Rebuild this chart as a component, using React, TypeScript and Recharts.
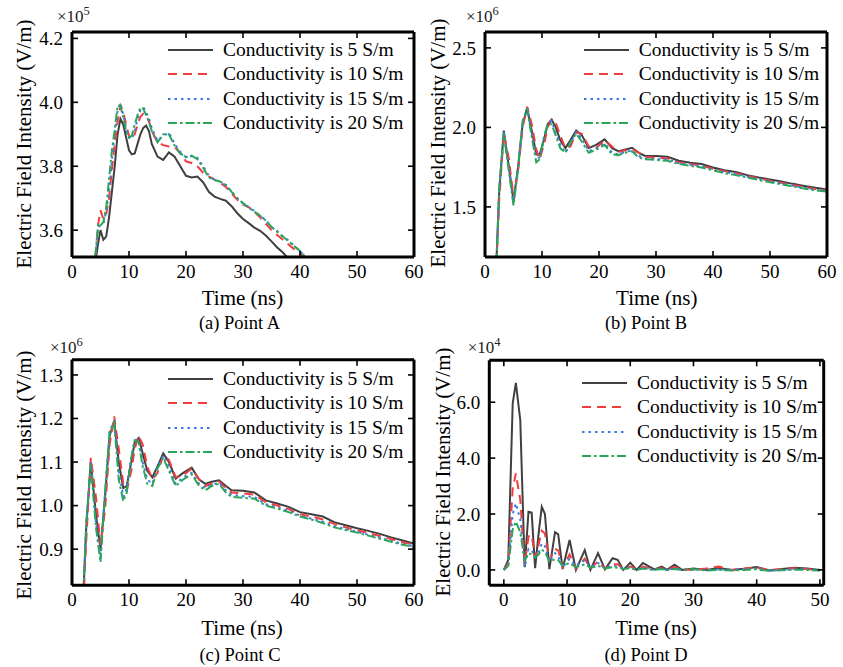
import React from 'react';
import { LineChart, Line, XAxis, YAxis, Legend } from 'recharts';

const serif = '"Liberation Serif", "Times New Roman", serif';

const seriesNames = ['Conductivity is 5 S/m', 'Conductivity is 10 S/m', 'Conductivity is 15 S/m', 'Conductivity is 20 S/m'];
const seriesKeys = ['s5', 's10', 's15', 's20'];
const seriesColors = ['#404040', '#f23d3d', '#3b7be6', '#2aa65a'];
const seriesDashes = [undefined, '9 6', '2.5 4', '9 3 2.5 3'];

// (a) Point A, values in 1e5 V/m
const timeA = [4.1, 4.6, 5.0, 5.5, 6.0, 6.5, 7.0, 7.5, 8.0, 8.5, 9.0, 9.5, 10.0, 10.5, 11, 11.5, 12, 12.5, 13, 13.5, 14, 15, 16, 17, 18, 19, 20, 21, 22, 23, 24, 25, 26, 27, 28, 29, 30, 31, 32, 33, 34, 35, 36, 37, 38, 39, 40, 41];
const a5 = [3.5, 3.56, 3.6, 3.57, 3.58, 3.64, 3.72, 3.8, 3.9, 3.948, 3.93, 3.89, 3.85, 3.837, 3.84, 3.87, 3.9, 3.92, 3.927, 3.91, 3.87, 3.83, 3.82, 3.843, 3.83, 3.8, 3.77, 3.765, 3.768, 3.75, 3.72, 3.705, 3.698, 3.692, 3.675, 3.653, 3.635, 3.622, 3.608, 3.598, 3.583, 3.565, 3.546, 3.53, 3.51, 3.49, 3.47, 3.45];
const a10 = [3.52, 3.62, 3.662, 3.635, 3.65, 3.7, 3.79, 3.87, 3.94, 3.99, 3.97, 3.93, 3.895, 3.886, 3.9, 3.93, 3.955, 3.964, 3.96, 3.94, 3.91, 3.875, 3.866, 3.862, 3.86, 3.84, 3.815, 3.81, 3.8, 3.78, 3.768, 3.758, 3.748, 3.735, 3.715, 3.695, 3.68, 3.672, 3.657, 3.64, 3.62, 3.6, 3.585, 3.57, 3.555, 3.54, 3.528, 3.51];
const a15 = [3.51, 3.61, 3.615, 3.62, 3.66, 3.72, 3.82, 3.9, 3.975, 3.998, 3.96, 3.92, 3.89, 3.885, 3.91, 3.95, 3.975, 3.985, 3.97, 3.95, 3.92, 3.88, 3.895, 3.905, 3.87, 3.845, 3.828, 3.832, 3.826, 3.8, 3.77, 3.758, 3.752, 3.74, 3.72, 3.7, 3.683, 3.672, 3.66, 3.645, 3.632, 3.61, 3.597, 3.58, 3.568, 3.55, 3.535, 3.515];
const a20 = [3.52, 3.62, 3.615, 3.625, 3.67, 3.76, 3.85, 3.915, 3.99, 3.99, 3.95, 3.91, 3.89, 3.895, 3.93, 3.96, 3.984, 3.98, 3.96, 3.94, 3.91, 3.875, 3.9, 3.9, 3.865, 3.84, 3.828, 3.833, 3.822, 3.795, 3.765, 3.757, 3.752, 3.742, 3.72, 3.7, 3.685, 3.67, 3.658, 3.645, 3.63, 3.61, 3.595, 3.58, 3.565, 3.55, 3.535, 3.515];

// (b) Point B and (c) Point C share a time grid, values in 1e6 V/m
const timeBC = [2.0, 2.5, 3.3, 4.2, 5.0, 5.8, 6.6, 7.4, 8.2, 9.0, 9.6, 10.4, 11.0, 11.7, 12.4, 13.2, 14.1, 15.0, 16.0, 17.0, 18.2, 19.5, 21.0, 22.3, 23.4, 24.5, 25.8, 27.0, 28.0, 30, 32, 34, 36, 38, 40, 42, 44, 46, 48, 50, 52, 54, 56, 58, 60];
const b5 = [1.15, 1.6, 1.98, 1.75, 1.54, 1.75, 2.02, 2.12, 1.98, 1.83, 1.83, 1.93, 2.02, 2.05, 2.0, 1.92, 1.87, 1.92, 1.98, 1.95, 1.87, 1.89, 1.925, 1.87, 1.85, 1.86, 1.872, 1.84, 1.822, 1.82, 1.815, 1.79, 1.778, 1.77, 1.748, 1.73, 1.72, 1.7, 1.685, 1.672, 1.66, 1.645, 1.632, 1.62, 1.61];
const b10 = [1.13, 1.55, 1.96, 1.8, 1.56, 1.72, 2.0, 2.13, 2.02, 1.86, 1.8, 1.9, 2.0, 2.05, 2.03, 1.95, 1.87, 1.88, 1.97, 1.96, 1.88, 1.87, 1.92, 1.88, 1.845, 1.855, 1.865, 1.84, 1.815, 1.81, 1.805, 1.78, 1.77, 1.76, 1.74, 1.725, 1.712, 1.695, 1.68, 1.665, 1.652, 1.638, 1.625, 1.612, 1.603];
const b15 = [1.15, 1.62, 1.97, 1.74, 1.52, 1.74, 2.03, 2.12, 1.96, 1.81, 1.81, 1.94, 2.02, 2.04, 1.97, 1.89, 1.84, 1.9, 1.97, 1.93, 1.85, 1.87, 1.9, 1.84, 1.83, 1.845, 1.855, 1.82, 1.805, 1.8, 1.8, 1.775, 1.765, 1.755, 1.735, 1.72, 1.708, 1.69, 1.675, 1.66, 1.648, 1.633, 1.62, 1.608, 1.6];
const b20 = [1.15, 1.62, 1.96, 1.72, 1.51, 1.74, 2.04, 2.12, 1.94, 1.78, 1.8, 1.95, 2.02, 2.02, 1.95, 1.87, 1.84, 1.91, 1.96, 1.91, 1.84, 1.86, 1.89, 1.83, 1.825, 1.84, 1.85, 1.81, 1.8, 1.795, 1.79, 1.77, 1.758, 1.748, 1.73, 1.712, 1.7, 1.685, 1.67, 1.655, 1.642, 1.628, 1.615, 1.604, 1.596];

const c5 = [0.8, 0.95, 1.1, 0.98, 0.9, 1.02, 1.16, 1.195, 1.1, 1.04, 1.045, 1.1, 1.145, 1.155, 1.12, 1.08, 1.065, 1.09, 1.12, 1.1, 1.062, 1.075, 1.087, 1.06, 1.05, 1.055, 1.058, 1.045, 1.035, 1.034, 1.03, 1.012, 1.005, 0.997, 0.985, 0.98, 0.975, 0.962, 0.955, 0.948, 0.942, 0.935, 0.927, 0.92, 0.913];
const c10 = [0.78, 0.92, 1.11, 1.02, 0.91, 0.99, 1.14, 1.205, 1.13, 1.05, 1.035, 1.08, 1.13, 1.16, 1.14, 1.09, 1.06, 1.075, 1.115, 1.105, 1.065, 1.07, 1.085, 1.06, 1.045, 1.05, 1.055, 1.04, 1.03, 1.028, 1.025, 1.008, 1.0, 0.992, 0.98, 0.975, 0.968, 0.958, 0.95, 0.943, 0.937, 0.93, 0.923, 0.916, 0.91];
const c15 = [0.8, 0.96, 1.1, 0.96, 0.88, 1.03, 1.17, 1.195, 1.08, 1.02, 1.04, 1.11, 1.15, 1.15, 1.1, 1.06, 1.05, 1.09, 1.115, 1.09, 1.05, 1.065, 1.075, 1.05, 1.04, 1.048, 1.052, 1.035, 1.025, 1.022, 1.02, 1.003, 0.996, 0.988, 0.977, 0.97, 0.963, 0.953, 0.946, 0.94, 0.933, 0.926, 0.919, 0.912, 0.907];
const c20 = [0.8, 0.96, 1.095, 0.95, 0.87, 1.03, 1.17, 1.19, 1.06, 1.01, 1.03, 1.11, 1.15, 1.145, 1.09, 1.05, 1.045, 1.085, 1.11, 1.08, 1.045, 1.06, 1.072, 1.045, 1.035, 1.045, 1.05, 1.03, 1.02, 1.018, 1.016, 1.0, 0.993, 0.985, 0.975, 0.968, 0.96, 0.95, 0.944, 0.938, 0.931, 0.924, 0.917, 0.91, 0.905];

// (d) Point D, values in 1e4 V/m
const timeD = [0, 0.7, 1.4, 1.9, 2.6, 3.3, 3.9, 4.4, 4.95, 5.5, 6.0, 6.5, 7.2, 8.1, 8.6, 9.3, 10.4, 11.4, 12.8, 13.7, 14.9, 16.0, 17.2, 18.0, 18.9, 20.0, 21.0, 22.0, 23.8, 25.0, 25.8, 27.0, 28.2, 30, 32, 34, 36, 38, 40, 42, 44, 46, 48, 50];
const d5 = [0, 0.36, 5.95, 6.69, 5.36, 0.1, 2.08, 2.05, 0.06, 1.3, 2.26, 2.0, 0.03, 1.35, 1.27, 0.03, 1.07, 0.0, 0.71, 0.0, 0.6, 0.02, 0.42, 0.36, 0.0, 0.26, 0.0, 0.25, 0.02, 0.12, 0.0, 0.19, 0.0, 0.05, 0.0, 0.07, 0.0, 0.04, 0.1, -0.02, 0.03, 0.08, 0.05, 0.0];
const d10 = [0, 0.25, 2.9, 3.45, 2.5, 0.2, 1.2, 1.25, 0.45, 0.9, 1.4, 1.3, 0.35, 0.75, 0.7, 0.1, 0.55, 0.05, 0.4, 0.05, 0.3, 0.05, 0.2, 0.2, 0.03, 0.12, 0.02, 0.12, 0.02, 0.06, 0.0, 0.1, 0.02, 0.0, 0.05, 0.12, 0.0, 0.05, 0.08, 0.0, 0.02, 0.06, 0.03, 0.0];
const d15 = [0, 0.2, 2.0, 2.38, 1.8, 0.1, 0.75, 0.7, 0.45, 0.6, 0.95, 0.85, 0.3, 0.6, 0.5, 0.1, 0.4, 0.15, 0.35, 0.1, 0.25, 0.05, 0.15, 0.12, 0.05, 0.1, 0.0, 0.08, 0.0, 0.05, 0.0, 0.05, 0.0, 0.03, 0.0, 0.02, 0.0, 0.03, 0.05, -0.03, 0.0, 0.03, 0.02, 0.0];
const d20 = [0, 0.15, 1.45, 1.73, 1.35, 0.35, 0.6, 0.55, 0.45, 0.55, 0.72, 0.65, 0.3, 0.38, 0.35, 0.15, 0.25, 0.1, 0.2, 0.08, 0.15, 0.05, 0.1, 0.08, 0.03, 0.06, 0.0, 0.05, 0.0, 0.03, 0.0, 0.03, 0.0, 0.02, -0.02, 0.0, -0.02, 0.0, 0.02, -0.03, -0.01, 0.01, 0.0, -0.02];

const ticks0to60 = [0, 10, 20, 30, 40, 50, 60];
const ticks0to50 = [0, 10, 20, 30, 40, 50];
const yTicksA = [3.6, 3.8, 4.0, 4.2];
const yTicksB = [1.5, 2.0, 2.5];
const yTicksC = [0.9, 1.0, 1.1, 1.2, 1.3];
const yTicksD = [0, 2, 4, 6];

function buildRows(time: number[], series: number[][]) {
  return time.map((t, i) => {
    const row: Record<string, number> = { t };
    seriesKeys.forEach((k, j) => {
      row[k] = series[j][i];
    });
    return row;
  });
}

const rowsA = buildRows(timeA, [a5, a10, a15, a20]);
const rowsB = buildRows(timeBC, [b5, b10, b15, b20]);
const rowsC = buildRows(timeBC, [c5, c10, c15, c20]);
const rowsD = buildRows(timeD, [d5, d10, d15, d20]);

const frame = { stroke: '#000', strokeWidth: 3 };
const tickLn = { stroke: '#000', strokeWidth: 1.6 };
const tickStyle = { fill: '#000', fontSize: 19, fontFamily: serif };

function LegendBox() {
  return (
    <div style={{ fontFamily: serif, fontSize: 19.5, color: '#000' }}>
      {seriesNames.map((name, i) => (
        <div key={name} style={{ display: 'flex', alignItems: 'center', height: 24.4, whiteSpace: 'nowrap' }}>
          <svg width={45} height={8} style={{ marginRight: 10 }}>
            <line x1={0} y1={4} x2={45} y2={4} stroke={seriesColors[i]} strokeWidth={2} strokeDasharray={seriesDashes[i]} />
          </svg>
          <span>{name}</span>
        </div>
      ))}
    </div>
  );
}

type PanelProps = {
  left: number;
  top: number;
  width: number;
  height: number;
  box: [number, number, number, number];
  rows: Record<string, number>[];
  xDomain: [number, number];
  xTicks: number[];
  yDomain: [number, number];
  yTicks: number[];
  legendAt: [number, number];
  yLabelAt: [number, number];
  timeAt: [number, number];
  captionAt: [number, number];
  expAt: [number, number];
  exponent: string;
  caption: string;
};

function Panel(p: PanelProps) {
  const [pl, pt, pr, pb] = p.box;
  const centered = (at: [number, number], size: number): React.CSSProperties => ({
    position: 'absolute',
    left: at[0],
    top: at[1],
    transform: 'translate(-50%, -50%)',
    fontFamily: serif,
    fontSize: size,
    whiteSpace: 'nowrap',
    color: '#000',
  });
  return (
    <div style={{ position: 'absolute', left: p.left, top: p.top, width: p.width, height: p.height }}>
      <LineChart width={p.width} height={p.height} data={p.rows} margin={{ top: pt - 1, right: p.width - pr - 1, bottom: 0, left: 0 }}>
        <XAxis xAxisId="b" dataKey="t" type="number" domain={p.xDomain} ticks={p.xTicks} allowDataOverflow interval={0}
          height={p.height - pb} tickSize={-6} tickMargin={13.5} tick={tickStyle} axisLine={frame} tickLine={tickLn} />
        <XAxis xAxisId="t" orientation="top" dataKey="t" type="number" domain={p.xDomain} ticks={p.xTicks} allowDataOverflow interval={0}
          height={1} tickSize={-6} tickFormatter={() => ''} axisLine={frame} tickLine={tickLn} />
        <YAxis yAxisId="l" type="number" domain={p.yDomain} ticks={p.yTicks} allowDataOverflow interval={0}
          width={pl} tickSize={-6} tickMargin={15} tick={tickStyle} tickFormatter={(v: number) => v.toFixed(1)} axisLine={frame} tickLine={tickLn} />
        <YAxis yAxisId="r" orientation="right" type="number" domain={p.yDomain} ticks={p.yTicks} allowDataOverflow interval={0}
          width={1} tickSize={-6} tickFormatter={() => ''} axisLine={frame} tickLine={tickLn} />
        {seriesKeys.map((k, i) => (
          <Line key={k} xAxisId="b" yAxisId="l" type="linear" dataKey={k} name={seriesNames[i]} stroke={seriesColors[i]}
            strokeWidth={2} strokeDasharray={seriesDashes[i]} dot={false} activeDot={false} isAnimationActive={false} />
        ))}
        <Legend layout="vertical" align="center" verticalAlign="middle" content={() => <LegendBox />}
          wrapperStyle={{ left: p.legendAt[0], top: p.legendAt[1], width: 'auto', height: 'auto' }} />
      </LineChart>
      <div style={{ ...centered(p.yLabelAt, 21), transform: 'translate(-50%, -50%) rotate(-90deg)' }}>
        Electric Field Intensity (V/m)
      </div>
      <div style={centered(p.timeAt, 21)}>Time (ns)</div>
      <div style={centered(p.captionAt, 18.5)}>{p.caption}</div>
      <div style={{ position: 'absolute', left: p.expAt[0], top: p.expAt[1], fontFamily: serif, fontSize: 17, lineHeight: '17px', color: '#222', whiteSpace: 'nowrap' }}>
        ×10<span style={{ position: 'relative', top: -7, fontSize: 12.5 }}>{p.exponent}</span>
      </div>
    </div>
  );
}

export default function App() {
  return (
    <div style={{ position: 'absolute', left: 0, top: 0, width: 843, height: 667, background: '#fff' }}>
      <Panel left={0} top={0} width={435} height={333} box={[72, 32, 414, 257]} rows={rowsA}
        xDomain={[0, 60]} xTicks={ticks0to60} yDomain={[3.516, 4.22]} yTicks={yTicksA}
        legendAt={[168, 37.8]} yLabelAt={[24, 143.5]} timeAt={[242.5, 298]} captionAt={[239.5, 323]} expAt={[57, 8]}
        exponent="5" caption="(a) Point A" />
      <Panel left={421} top={0} width={422} height={333} box={[64, 32, 406, 257]} rows={rowsB}
        xDomain={[0, 60]} xTicks={ticks0to60} yDomain={[1.185, 2.6]} yTicks={yTicksB}
        legendAt={[162.7, 37.8]} yLabelAt={[17, 142.5]} timeAt={[235.8, 298]} captionAt={[225, 323]} expAt={[45, 8]}
        exponent="6" caption="(b) Point B" />
      <Panel left={0} top={333} width={435} height={334} box={[72, 26.7, 414, 252.3]} rows={rowsC}
        xDomain={[0, 60]} xTicks={ticks0to60} yDomain={[0.817, 1.335]} yTicks={yTicksC}
        legendAt={[168, 33.8]} yLabelAt={[24, 141.7]} timeAt={[242, 295]} captionAt={[240, 322]} expAt={[50, 6]}
        exponent="6" caption="(c) Point C" />
      <Panel left={421} top={333} width={422} height={334} box={[68.3, 27.3, 402.7, 252.3]} rows={rowsD}
        xDomain={[-2.3, 50.6]} xTicks={ticks0to50} yDomain={[-0.55, 7.5]} yTicks={yTicksD}
        legendAt={[161, 37.8]} yLabelAt={[21.7, 139]} timeAt={[235, 295]} captionAt={[225, 322]} expAt={[46.7, 6]}
        exponent="4" caption="(d) Point D" />
    </div>
  );
}
